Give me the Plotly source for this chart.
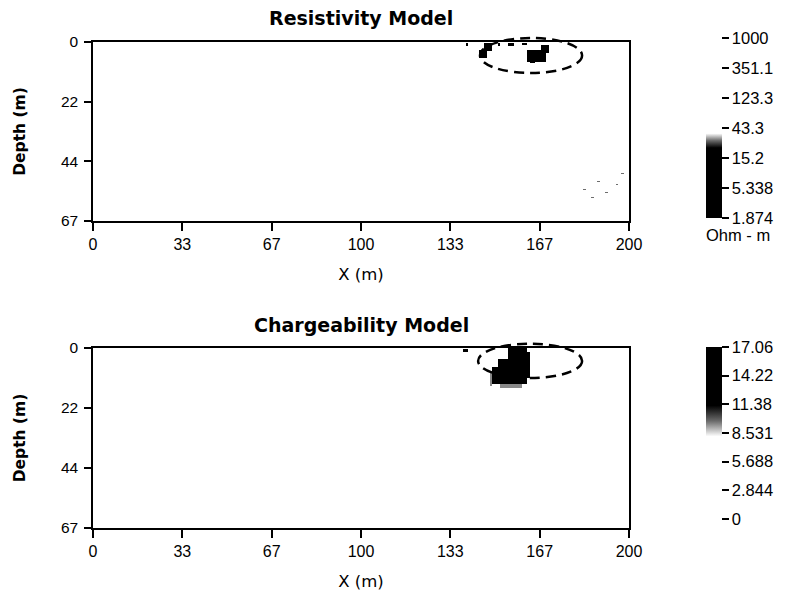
import numpy as np
import plotly.graph_objects as go

W, H = 787, 592

# ---------------- data ----------------
x_tick_vals = [0, 33.33, 66.67, 100, 133.33, 166.67, 200]
x_tick_text = ["0", "33", "67", "100", "133", "167", "200"]
depth_tick_vals = [0, 22.33, 44.67, 67]
depth_tick_text = ["0", "22", "44", "67"]

res_tick_vals = [1000, 351.1, 123.3, 43.3, 15.2, 5.338, 1.874]
res_tick_text = ["1000", "351.1", "123.3", "43.3", "15.2", "5.338", "1.874"]
chg_tick_vals = [17.06, 14.22, 11.38, 8.531, 5.688, 2.844, 0]
chg_tick_text = ["17.06", "14.22", "11.38", "8.531", "5.688", "2.844", "0"]

res_background = 500.0
chg_background = 1.0

# resistivity model anomalies (Ohm-m): x from/to (m), depth from/to (m), value
res_x0 = [167.4, 162.4, 163.0, 146.0, 144.5, 150.6, 155.0, 138.8, 160.0,
          183, 188, 191, 195, 197, 186]
res_x1 = [169.9, 168.7, 165.0, 149.5, 147.0, 152.5, 157.5, 139.8, 162.0,
          184, 189, 192, 196, 198, 187]
res_z0 = [1.1, 3.0, 7.0, 0.5, 3.0, 0.5, 0.5, 0.5, 0.3,
          55, 52, 56, 53, 49, 58]
res_z1 = [4.2, 7.4, 8.0, 3.5, 6.0, 1.6, 1.6, 1.3, 1.0,
          55.5, 52.5, 56.5, 53.5, 49.5, 58.5]
res_val = [3.0, 3.0, 4.0, 5.0, 5.0, 8.0, 8.0, 10.0, 10.0,
           28, 28, 28, 28, 28, 28]

# chargeability model anomalies (value units of colour bar)
chg_x0 = [152.0, 148.0, 155.0, 151.2, 149.5, 162.4, 138.0]
chg_x1 = [160.0, 149.5, 162.4, 162.4, 151.2, 163.5, 140.0]
chg_z0 = [13.3, 8.5, 0.1, 3.9, 7.0, 1.5, 0.3]
chg_z1 = [14.8, 14.0, 4.5, 13.3, 13.5, 11.0, 1.5]
chg_val = [9.4, 9.4, 16.5, 16.0, 15.0, 12.5, 12.0]

# ---------------- model grids ----------------
x_cells = np.arange(0.5, 200, 1.0)
z_cells = np.arange(0.25, 67, 0.5)
XX, ZZ = np.meshgrid(x_cells, z_cells)


def build(bg, x0s, x1s, z0s, z1s, vals):
    g = np.full(XX.shape, bg, dtype=float)
    for a, b, c, d, v in zip(x0s, x1s, z0s, z1s, vals):
        m = (XX >= a) & (XX < b) & (ZZ >= c) & (ZZ < d)
        g[m] = v
    return g


res_grid = np.log10(build(res_background, res_x0, res_x1, res_z0, res_z1, res_val))
chg_grid = build(chg_background, chg_x0, chg_x1, chg_z0, chg_z1, chg_val)

# ---------------- layout geometry ----------------
xl, xr = 93 / W, 629 / W
top_dom = [1 - 221 / H, 1 - 42 / H]
bot_dom = [1 - 528 / H, 1 - 348 / H]
FONT = "Liberation Sans, Arial, sans-serif"
WIDE = "DejaVu Sans, sans-serif"

res_scale = [[0, "black"], [0.39, "black"], [0.43, "#6a6a6a"], [0.47, "white"], [1, "white"]]
chg_scale = [[0, "white"], [0.48, "white"], [0.57, "#6a6a6a"], [0.66, "black"], [1, "black"]]

cb_common = dict(
    x=706 / W, xanchor="left", xpad=0, ypad=0, yanchor="top",
    lenmode="pixels", thickness=16, outlinewidth=0,
    ticks="outside", ticklen=7, tickwidth=1.5, tickcolor="black",
    tickprefix="\u00a0\u00a0",
    tickfont=dict(family=FONT, size=16.5, color="black"),
)

fig = go.Figure()

fig.add_trace(go.Heatmap(
    x=x_cells, y=z_cells, z=res_grid, xaxis="x", yaxis="y",
    colorscale=res_scale, zmin=np.log10(1.874), zmax=3.0, zsmooth=False,
    hoverinfo="skip",
    colorbar=dict(y=1 - 38 / H, len=180,
                  tickvals=list(np.log10(res_tick_vals)), ticktext=res_tick_text,
                  **cb_common),
))

fig.add_trace(go.Heatmap(
    x=x_cells, y=z_cells, z=chg_grid, xaxis="x2", yaxis="y2",
    colorscale=chg_scale, zmin=0, zmax=17.06, zsmooth=False,
    hoverinfo="skip",
    colorbar=dict(y=1 - 347 / H, len=172,
                  tickvals=chg_tick_vals, ticktext=chg_tick_text,
                  **cb_common),
))

xaxis_common = dict(
    range=[0, 200], tickvals=x_tick_vals, ticktext=x_tick_text,
    ticks="outside", ticklen=8, tickwidth=1.5, tickcolor="black",
    showline=True, linecolor="black", linewidth=1.5, mirror=True,
    showgrid=False, zeroline=False, automargin=False,
    tickfont=dict(family=FONT, size=16, color="black"),
    title=dict(text="X (m)", font=dict(family=WIDE, size=16.5, color="black"), standoff=16),
)
yaxis_common = dict(
    range=[67, 0], tickvals=depth_tick_vals, ticktext=depth_tick_text,
    ticks="outside", ticklen=7, tickwidth=1.5, tickcolor="black",
    showline=True, linecolor="black", linewidth=1.5, mirror=True,
    showgrid=False, zeroline=False, automargin=False,
    ticklabelstandoff=3,
    tickfont=dict(family=FONT, size=15.5, color="black"),
    title=dict(text="Depth (m)", font=dict(family=WIDE, size=15.5, color="black", weight="bold"),
               standoff=31),
)

fig.update_layout(
    width=W, height=H,
    margin=dict(l=0, r=0, t=0, b=0, autoexpand=False),
    paper_bgcolor="white", plot_bgcolor="white",
    showlegend=False,
    xaxis=dict(domain=[xl, xr], anchor="y", **xaxis_common),
    yaxis=dict(domain=top_dom, anchor="x", **yaxis_common),
    xaxis2=dict(domain=[xl, xr], anchor="y2", **xaxis_common),
    yaxis2=dict(domain=bot_dom, anchor="x2", **yaxis_common),
)

title_font = dict(family=WIDE, size=19, color="black", weight="bold")
fig.add_annotation(text="Resistivity Model", xref="paper", yref="paper",
                   x=(xl + xr) / 2, y=1 - 18 / H, xanchor="center", yanchor="middle",
                   showarrow=False, font=title_font)
fig.add_annotation(text="Chargeability Model", xref="paper", yref="paper",
                   x=(xl + xr) / 2, y=1 - 325 / H, xanchor="center", yanchor="middle",
                   showarrow=False, font=title_font)
fig.add_annotation(text="Ohm - m", xref="paper", yref="paper",
                   x=704 / W, y=1 - 235 / H, xanchor="left", yanchor="middle",
                   showarrow=False, font=dict(family=FONT, size=16.5, color="black"))

# dashed ellipses marking the anomalies
fig.add_shape(type="circle", xref="x domain", yref="y domain",
              x0=144.4 / 200, x1=182.5 / 200, y0=1 - 11.6 / 67, y1=1 + 1.5 / 67,
              line=dict(color="black", width=2.5, dash="10px,6px"))
fig.add_shape(type="circle", xref="x2 domain", yref="y2 domain",
              x0=143.7 / 200, x1=182.5 / 200, y0=1 - 11.2 / 67, y1=1 + 1.6 / 67,
              line=dict(color="black", width=2.5, dash="10px,6px"))

fig.write_html("out.html")
